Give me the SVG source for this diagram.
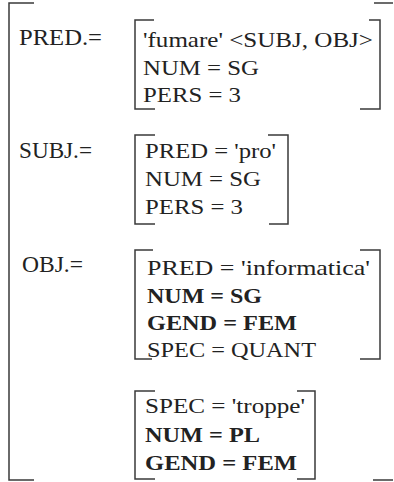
<svg xmlns="http://www.w3.org/2000/svg" width="394" height="482" viewBox="0 0 394 482">
<style>
.br{fill:none;stroke:#3a3a3a;stroke-width:1.5}
.t{font-family:"Liberation Serif","Times New Roman",serif;font-size:22px;fill:#222}
.b{font-weight:bold}
.l{font-family:"Liberation Serif","Times New Roman",serif;font-size:23px;fill:#222}
</style>
<rect width="394" height="482" fill="#fff"/>
<g id="outer">
<path class="br" d="M34,3 H9 V480 H34"/>
<path class="br" d="M374,3 H393"/>
<path class="br" d="M373,480 H393"/>
</g>
<g id="pred">
<text class="l" x="19" y="45" textLength="83" lengthAdjust="spacingAndGlyphs">PRED.=</text>
<path class="br" d="M154,20 H135 V109 H155"/>
<path class="br" d="M369,20 H380 V109 H360"/>
<text class="t" x="143" y="47" textLength="230" lengthAdjust="spacingAndGlyphs">'fumare' &lt;SUBJ, OBJ&gt;</text>
<text class="t" x="143" y="75" textLength="116" lengthAdjust="spacingAndGlyphs">NUM = SG</text>
<text class="t" x="143" y="102" textLength="98" lengthAdjust="spacingAndGlyphs">PERS = 3</text>
</g>
<g id="subj">
<text class="l" x="19" y="158" textLength="73" lengthAdjust="spacingAndGlyphs">SUBJ.=</text>
<path class="br" d="M155,135 H135 V224 H155"/>
<path class="br" d="M268,135 H288 V224 H269"/>
<text class="t" x="145" y="158" textLength="131" lengthAdjust="spacingAndGlyphs">PRED = 'pro'</text>
<text class="t" x="145" y="186" textLength="116" lengthAdjust="spacingAndGlyphs">NUM = SG</text>
<text class="t" x="145" y="214" textLength="98" lengthAdjust="spacingAndGlyphs">PERS = 3</text>
</g>
<g id="obj">
<text class="l" x="22" y="272" textLength="61" lengthAdjust="spacingAndGlyphs">OBJ.=</text>
<path class="br" d="M153,250 H135 V359 H152"/>
<path class="br" d="M360,250 H380 V359 H360"/>
<text class="t" x="147" y="275" textLength="223" lengthAdjust="spacingAndGlyphs">PRED = 'informatica'</text>
<text class="t b" x="147" y="303" textLength="115" lengthAdjust="spacingAndGlyphs">NUM = SG</text>
<text class="t b" x="147" y="330" textLength="150" lengthAdjust="spacingAndGlyphs">GEND = FEM</text>
<text class="t" x="147" y="357" textLength="169" lengthAdjust="spacingAndGlyphs">SPEC = QUANT</text>
</g>
<g id="spec">
<path class="br" d="M155,391 H135 V479 H155"/>
<path class="br" d="M297,391 H315 V479 H297"/>
<text class="t" x="145" y="413" textLength="160" lengthAdjust="spacingAndGlyphs">SPEC = 'troppe'</text>
<text class="t b" x="145" y="442" textLength="115" lengthAdjust="spacingAndGlyphs">NUM = PL</text>
<text class="t b" x="145" y="470" textLength="152" lengthAdjust="spacingAndGlyphs">GEND = FEM</text>
</g>
<g id="connectors"></g>
</svg>
